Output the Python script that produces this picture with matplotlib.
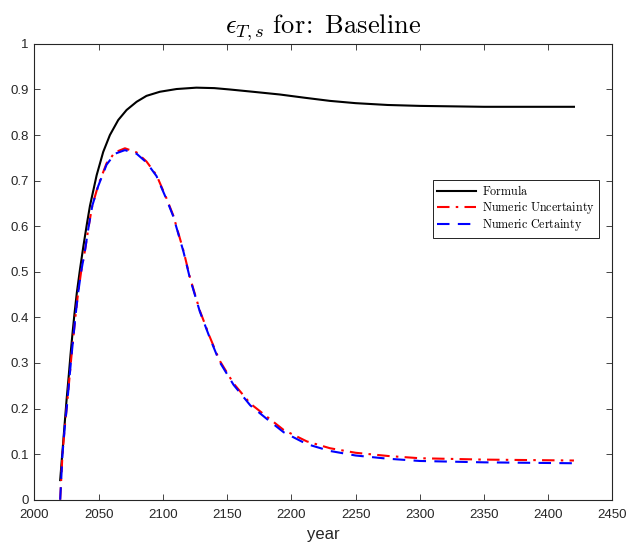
import matplotlib
matplotlib.use("Agg")
import matplotlib.pyplot as plt

plt.rcParams['mathtext.fontset'] = 'cm'
plt.rcParams['font.family'] = ['Liberation Sans', 'DejaVu Sans']

# Formula series
formula_years = [2020, 2021.6, 2023.3, 2025, 2026.6, 2028.1, 2029.6, 2031.2, 2033, 2035.4,
                 2038, 2040.8, 2043.2, 2048.4, 2053.5, 2058.7, 2065.2, 2071.7, 2079.5,
                 2087.2, 2097.6, 2110.6, 2126, 2140, 2152, 2170, 2191, 2210, 2230, 2250,
                 2275, 2300, 2350, 2420]
formula_vals = [0.043, 0.10, 0.16, 0.22, 0.27, 0.32, 0.365, 0.41, 0.455, 0.505,
                0.555, 0.605, 0.645, 0.712, 0.763, 0.800, 0.833, 0.855, 0.873,
                0.886, 0.895, 0.901, 0.904, 0.903, 0.900, 0.895, 0.889, 0.882, 0.875, 0.870,
                0.866, 0.864, 0.862, 0.862]

# Numeric Uncertainty series
unc_years = [2020, 2021.8, 2023.6, 2025.4, 2027, 2028.6, 2030.2, 2031.8, 2033.8, 2036.3,
             2039.5, 2042.2, 2045, 2049.6, 2056.1, 2062.6, 2070.4, 2079.5, 2087.2,
             2095, 2102.8, 2108, 2116, 2121, 2128.7, 2136.5, 2144, 2155, 2168, 2181,
             2194, 2212, 2230, 2250, 2275, 2300, 2350, 2420]
unc_vals = [0.0, 0.10, 0.16, 0.21, 0.26, 0.31, 0.355, 0.40, 0.45, 0.50,
            0.55, 0.60, 0.645, 0.690, 0.738, 0.762, 0.771, 0.762, 0.742,
            0.712, 0.661, 0.624, 0.546, 0.488, 0.415, 0.357, 0.306, 0.255, 0.211, 0.182,
            0.153, 0.128, 0.113, 0.103, 0.096, 0.091, 0.088, 0.086]

# Numeric Certainty series
cert_years = [2020, 2021.8, 2023.6, 2025.4, 2027, 2028.6, 2030.2, 2031.8, 2033.8, 2036.3,
              2039.5, 2042.2, 2045, 2049.6, 2056.1, 2062.6, 2070.4, 2079.5, 2087.2,
              2095, 2102.8, 2108, 2116, 2121, 2128.7, 2136.5, 2144, 2155, 2168, 2181,
              2194, 2212, 2230, 2250, 2275, 2300, 2350, 2420]
cert_vals = [0.0, 0.10, 0.16, 0.21, 0.26, 0.31, 0.355, 0.40, 0.45, 0.50,
             0.55, 0.60, 0.645, 0.688, 0.735, 0.759, 0.767, 0.759, 0.740,
             0.710, 0.659, 0.622, 0.544, 0.486, 0.413, 0.355, 0.303, 0.252, 0.207, 0.177,
             0.148, 0.122, 0.107, 0.097, 0.090, 0.085, 0.082, 0.080]

labels = ['Formula', 'Numeric Uncertainty', 'Numeric Certainty']
x_ticks = [2000, 2050, 2100, 2150, 2200, 2250, 2300, 2350, 2400, 2450]
y_ticks = [0, 0.1, 0.2, 0.3, 0.4, 0.5, 0.6, 0.7, 0.8, 0.9, 1]
y_ticklabels = ['0', '0.1', '0.2', '0.3', '0.4', '0.5', '0.6', '0.7', '0.8', '0.9', '1']


def tex(s):
    return r'$\mathrm{' + s.replace(' ', r'\ ') + '}$'


fig = plt.figure(figsize=(6.26, 5.44), dpi=100)
ax = fig.add_axes([0.0551, 0.0814, 0.9233, 0.8379])

ax.plot(formula_years, formula_vals, color='black', lw=1.5, label=tex(labels[0]))
ax.plot(unc_years, unc_vals, color='red', lw=1.5, linestyle=(0, (6, 3, 1.2, 3)),
        label=tex(labels[1]))
ax.plot(cert_years, cert_vals, color='blue', lw=1.5, linestyle=(0, (6, 4)),
        label=tex(labels[2]))

ax.set_xlim(2000, 2450)
ax.set_ylim(0, 1)
ax.set_xticks(x_ticks)
ax.set_xticklabels([str(t) for t in x_ticks])
ax.set_yticks(y_ticks)
ax.set_yticklabels(y_ticklabels)

edge = '#262626'
for s in ax.spines.values():
    s.set_color(edge)
    s.set_linewidth(0.8)
ax.tick_params(direction='in', length=4.5, width=0.6, colors=edge, labelsize=9.5,
               top=True, right=True)
ax.tick_params(axis='x', pad=7)
ax.tick_params(axis='y', pad=4)

ax.set_xlabel('year', fontsize=12, color=edge, labelpad=4)
ax.set_title(r'$\epsilon_{T,s}\ \mathrm{for\!:\ Baseline}$', fontsize=19, pad=8)

leg = ax.legend(loc='upper left', bbox_to_anchor=(0.689, 0.701), fontsize=8.7,
                frameon=True, fancybox=False, edgecolor='black', framealpha=1,
                borderpad=0.35, labelspacing=0.12, handlelength=3.2, handletextpad=0.5,
                borderaxespad=0)
leg.get_frame().set_linewidth(0.6)

fig.savefig('out.png', dpi=100)
